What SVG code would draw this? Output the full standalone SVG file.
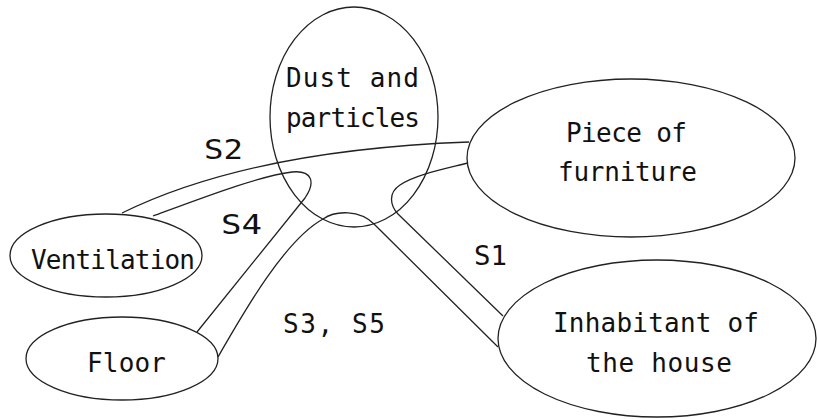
<svg xmlns="http://www.w3.org/2000/svg" width="817" height="419" viewBox="0 0 817 419">
<style>
.n{fill:none;stroke:#222;stroke-width:1.3}
.c{fill:none;stroke:#222;stroke-width:1.3}
text{font-family:"DejaVu Sans Mono","Liberation Mono",monospace;font-size:26px;fill:#111}
</style>
<rect width="817" height="419" fill="#fff"/>
<g id="connectors">
<path class="c" d="M122,213 Q250,150 469,142"/>
<path class="c" d="M153,216 C210,195 260,176 292,172 C312,170 316,182 305,198 L197,332"/>
<path class="c" d="M218,357 C245,310 285,240 323,219 C336,210 360,210 374,224 L498,347"/>
<path class="c" d="M468,163 C440,170 415,175 400,185 C388,193 390,205 398,214 L503,316"/>
<text x="204" y="159" textLength="39" lengthAdjust="spacingAndGlyphs">S2</text>
<text x="221" y="234" textLength="41" lengthAdjust="spacingAndGlyphs">S4</text>
<text x="283" y="333" textLength="102" lengthAdjust="spacing">S3, S5</text>
<text x="474" y="265" textLength="33" lengthAdjust="spacingAndGlyphs">S1</text>
</g>
<g id="dust">
<ellipse class="n" cx="354" cy="117" rx="84" ry="110"/>
<text x="286" y="87" textLength="133" lengthAdjust="spacing">Dust and</text>
<text x="286" y="127" textLength="134" lengthAdjust="spacing">particles</text>
</g>
<g id="furniture">
<ellipse class="n" cx="631" cy="158" rx="164" ry="79"/>
<text x="566" y="142" textLength="121" lengthAdjust="spacing">Piece of</text>
<text x="558" y="181" textLength="139" lengthAdjust="spacing">furniture</text>
</g>
<g id="inhabitant">
<ellipse class="n" cx="657" cy="338.5" rx="159" ry="78.5"/>
<text x="553" y="332" textLength="206" lengthAdjust="spacing">Inhabitant of</text>
<text x="586" y="372" textLength="146" lengthAdjust="spacing">the house</text>
</g>
<g id="ventilation">
<ellipse class="n" cx="106" cy="255.5" rx="96" ry="41.5"/>
<text x="31" y="269" textLength="164" lengthAdjust="spacing">Ventilation</text>
</g>
<g id="floor">
<ellipse class="n" cx="122" cy="358.5" rx="96" ry="41.5"/>
<text x="87" y="372" textLength="79" lengthAdjust="spacing">Floor</text>
</g>
</svg>
